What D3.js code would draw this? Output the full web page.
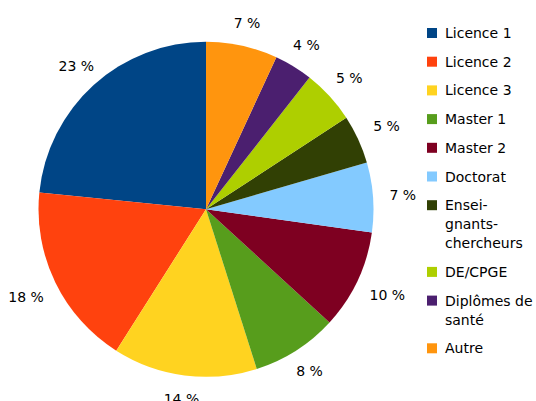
<!DOCTYPE html>
<html>
<head>
<meta charset="utf-8">
<script src="https://cdn.jsdelivr.net/npm/d3@7"></script>
<style>
  html, body { margin: 0; padding: 0; background: #fff; }
  svg { display: block; }
  text { font-family: "DejaVu Sans", sans-serif; font-size: 14px; fill: #000; }
</style>
</head>
<body>
<svg id="chart" width="536" height="401"></svg>
<script>
const categories = ["Licence 1", "Licence 2", "Licence 3", "Master 1", "Master 2", "Doctorat",
  "Ensei-\ngnants-\nchercheurs", "DE/CPGE", "Diplômes de\nsanté", "Autre"];
const values = [23.4, 17.6, 13.9, 8.3, 9.6, 6.7, 4.7, 5.2, 3.7, 6.9];
const colors = ["#004586", "#ff420e", "#ffd320", "#579d1c", "#7e0021", "#83caff",
  "#314004", "#aecf00", "#4b1f6f", "#ff950e"];

const svg = d3.select("#chart");
const cx = 206, cy = 209.3, r = 167.5;

const data = categories.map((c, i) => ({ name: c, value: values[i], color: colors[i] }));

const pie = d3.pie().value(d => d.value).sort(null).startAngle(0).endAngle(-2 * Math.PI);
const arc = d3.arc().innerRadius(0).outerRadius(r);
const arcs = pie(data);

const g = svg.append("g").attr("transform", `translate(${cx},${cy})`);
g.selectAll("path").data(arcs).enter().append("path")
  .attr("d", arc).attr("fill", d => d.data.color);

// labels
const R0 = 184, hh = 7;
const fmt = v => Math.round(v) + " %";
g.selectAll("text.lbl").data(arcs).enter().append("text")
  .attr("class", "lbl")
  .attr("text-anchor", "middle")
  .attr("dominant-baseline", "central")
  .text(d => fmt(d.data.value))
  .each(function(d) {
    const a = (d.startAngle + d.endAngle) / 2;
    const dx = Math.sin(a), dy = -Math.cos(a);
    const hw = this.getComputedTextLength() / 2;
    const t = Math.min(Math.abs(dx) > 1e-6 ? hw / Math.abs(dx) : 1e9, Math.abs(dy) > 1e-6 ? hh / Math.abs(dy) : 1e9);
    d3.select(this).attr("x", dx * (R0 + t)).attr("y", dy * (R0 + t));
  });

// legend
const lg = svg.append("g");
let y = 33;
const lineH = 19, gap = 28.7;
data.forEach(d => {
  const lines = d.name.split("\n");
  lg.append("rect").attr("x", 427).attr("y", y - 5).attr("width", 10).attr("height", 10).attr("fill", d.color);
  const t = lg.append("text").attr("x", 445).attr("y", y).attr("dominant-baseline", "central");
  lines.forEach((l, i) => {
    t.append("tspan").attr("x", 445).attr("y", y + i * lineH).text(l);
  });
  y += (lines.length - 1) * lineH + gap;
});
</script>
</body>
</html>
